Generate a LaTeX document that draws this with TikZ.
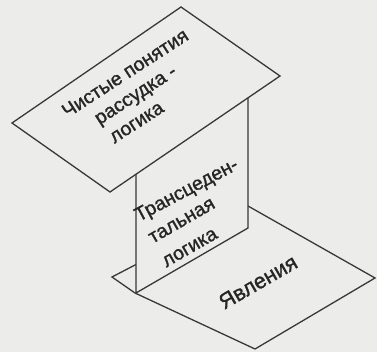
\documentclass[tikz,border=0pt]{standalone}
\usepackage{fontspec}
\setmainfont{Liberation Sans}[FakeBold=1.2]
\begin{document}
\begin{tikzpicture}[x=1pt,y=-1pt,
  edge/.style={draw=black!78,line width=1.3pt,line join=miter},
  plane/.style={edge,fill=bg},
  lbl/.style={font=\fontsize{19.5}{22}\selectfont,text=black!85,inner sep=0pt}]
\definecolor{bg}{RGB}{236,236,234}
\fill[bg] (0,0) rectangle (377,352);
\useasboundingbox (0,0) rectangle (377,352);
% bottom plane: Явления
\coordinate (bl) at (112,277);
\coordinate (bt) at (248,206);
\coordinate (br) at (375,278);
\coordinate (bb) at (255,349);
\coordinate (bm) at (135,293);
\filldraw[plane] (bl) -- (bt) -- (br) -- (bb) -- (bm) -- cycle;
% vertical plane
\coordinate (vtl) at (136,172);
\coordinate (vbl) at (136,293);
\coordinate (vbr) at (248,228);
\coordinate (vtr) at (248,96);
\filldraw[plane] (vtl) -- (vbl) -- (vbr) -- (vtr) -- cycle;
% top plane
\coordinate (tl) at (12,123);
\coordinate (tt) at (181,7);
\coordinate (tr) at (280,76);
\coordinate (tb) at (110,192);
\filldraw[plane] (tl) -- (tt) -- (tr) -- (tb) -- cycle;
% labels
\node[lbl,rotate=33] (t1) at (125,73) {Чистые понятия};
\node[lbl,rotate=33] (t2) at (137,97) {рассудка -};
\node[lbl,rotate=33] (t3) at (137,123) {логика};
\node[lbl,rotate=28] (m1) at (187,191) {Трансцеден-};
\node[lbl,rotate=30] (m2) at (182,221) {тальная};
\node[lbl,rotate=30] (m3) at (190,248) {логика};
\node[lbl,rotate=30,font=\fontsize{21.5}{24}\selectfont] (b1) at (258,282) {Явления};
\end{tikzpicture}
\end{document}
